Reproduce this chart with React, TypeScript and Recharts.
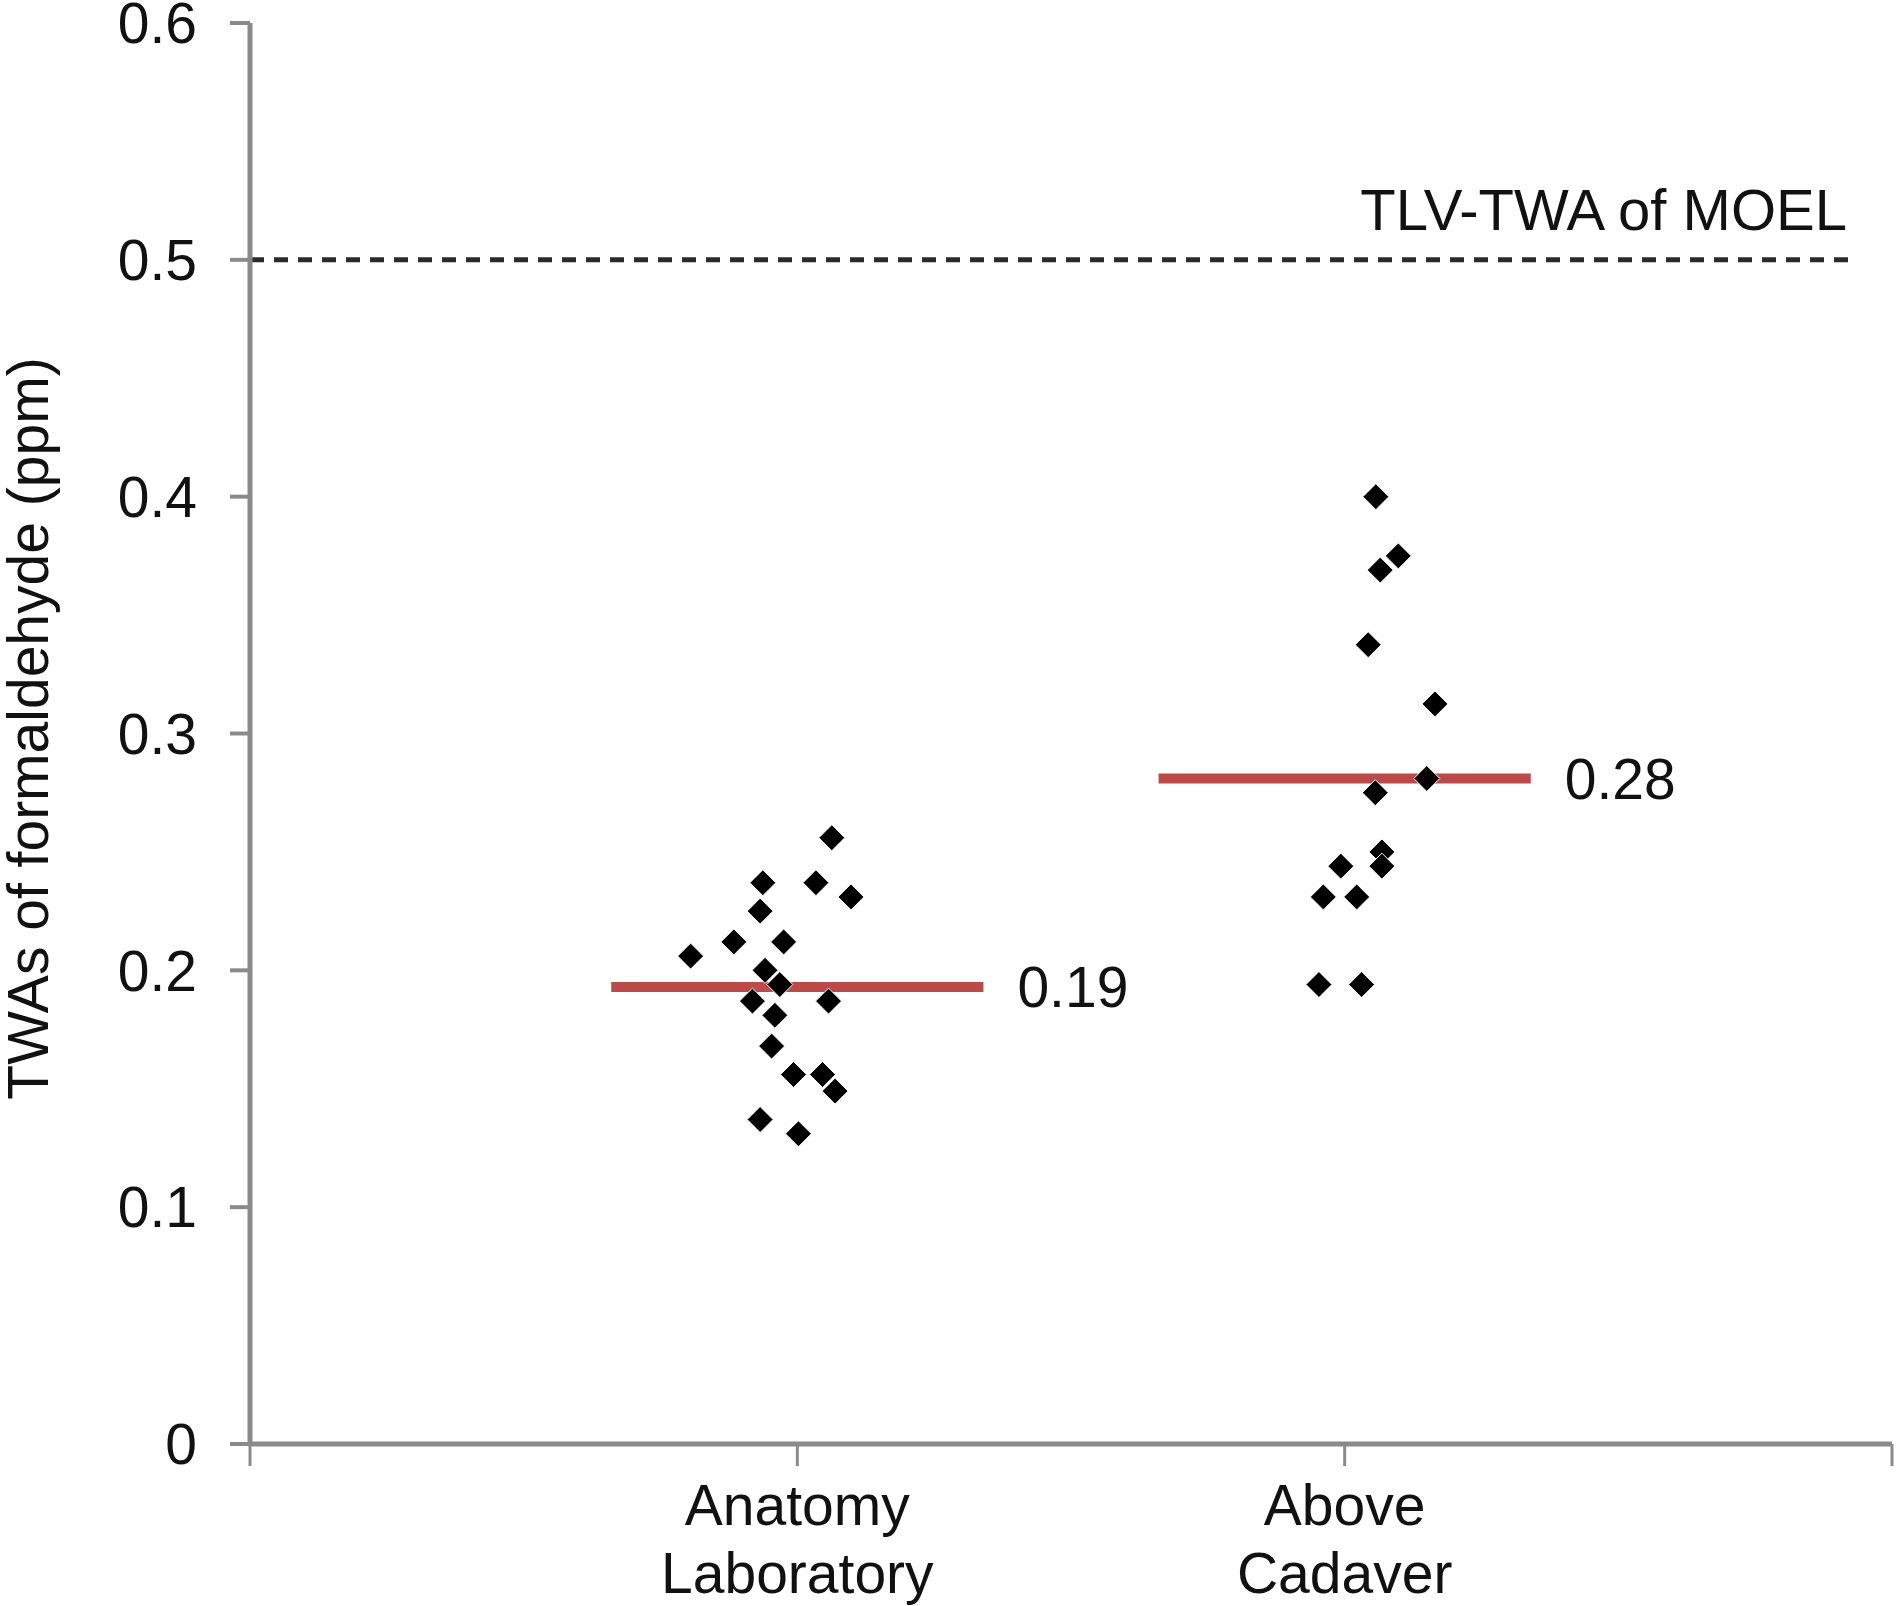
import React from 'react';
import { ScatterChart, Scatter, XAxis, YAxis, ReferenceLine } from 'recharts';

// category positions on the x axis (boundaries at 0 and 3)
const categoryPos = [1, 2];
const categoryLines = [
  ['Anatomy', 'Laboratory'],
  ['Above', 'Cadaver'],
];

// Anatomy laboratory: jittered x, TWA (ppm)
const anatomyX = [1.063, 0.937, 1.034, 1.098, 0.932, 0.884, 0.975, 0.805, 0.941, 0.968, 0.918, 1.057, 0.959, 0.953, 0.993, 1.046, 1.069, 0.932, 1.002];
const anatomyY = [0.256, 0.237, 0.237, 0.231, 0.225, 0.212, 0.212, 0.206, 0.2, 0.194, 0.187, 0.187, 0.181, 0.168, 0.156, 0.156, 0.149, 0.137, 0.131];

// Above cadaver
const cadaverX = [2.057, 2.098, 2.065, 2.043, 2.165, 2.15, 2.056, 2.068, 2.068, 1.993, 1.961, 2.022, 1.953, 2.031];
const cadaverY = [0.4, 0.375, 0.369, 0.3375, 0.3125, 0.281, 0.275, 0.25, 0.244, 0.244, 0.231, 0.231, 0.194, 0.194];

const means = [0.193, 0.281];
const meanLabels = ['0.19', '0.28'];

const yTicks = [0, 0.1, 0.2, 0.3, 0.4, 0.5, 0.6];
const xTicks = [0, 1, 2, 3];

const limit = 0.5;
const limitLabel = 'TLV-TWA of MOEL';
const yTitle = 'TWAs of formaldehyde (ppm)';

const anatomyData = anatomyX.map((x, i) => ({ x, y: anatomyY[i] }));
const cadaverData = cadaverX.map((x, i) => ({ x, y: cadaverY[i] }));

const FONT = '"Liberation Sans", Arial, Helvetica, sans-serif';
const AXIS = '#8a8a8a';
const RED = '#bb4a4a';

const Diamond = (props: any) => {
  const { cx, cy } = props;
  const r = 13;
  return (
    <polygon
      points={`${cx},${cy - r} ${cx + r},${cy} ${cx},${cy + r} ${cx - r},${cy}`}
      fill="#000"
      stroke="#fff"
      strokeWidth={1}
    />
  );
};

const XTick = (props: any) => {
  const { x, y, payload } = props;
  const idx = categoryPos.indexOf(payload.value);
  if (idx < 0) return <g />;
  const lines = categoryLines[idx];
  return (
    <text x={x} y={y} textAnchor="middle" fill="#111" fontSize={57} fontFamily={FONT}>
      <tspan x={x} dy={59}>{lines[0]}</tspan>
      <tspan x={x} dy={68}>{lines[1]}</tspan>
    </text>
  );
};

export default function App() {
  return (
    <div style={{ position: 'absolute', left: 0, top: 0, width: 1898, height: 1606, background: '#fff', fontFamily: FONT }}>
      <ScatterChart width={1898} height={1606} margin={{ top: 23, right: 6, bottom: 0, left: 0 }}>
        <XAxis
          type="number"
          dataKey="x"
          domain={[0, 3]}
          ticks={xTicks}
          interval={0}
          height={162}
          axisLine={{ stroke: AXIS, strokeWidth: 5 }}
          tickLine={{ stroke: AXIS, strokeWidth: 3 }}
          tickSize={22}
          tickMargin={0}
          tick={<XTick />}
        />
        <YAxis
          type="number"
          dataKey="y"
          domain={[0, 0.6]}
          ticks={yTicks}
          interval={0}
          width={250}
          axisLine={{ stroke: AXIS, strokeWidth: 5 }}
          tickLine={{ stroke: AXIS, strokeWidth: 4 }}
          tickSize={20}
          tickMargin={33}
          tick={{ fill: '#111', fontSize: 57, fontFamily: FONT }}
          tickFormatter={(v: number) => (v === 0 ? '0' : v.toFixed(1))}
          label={(p: any) => {
            const vb = p.viewBox || { x: 0, y: 23, width: 250, height: 1421 };
            const cx = 28;
            const cy = vb.y + vb.height / 2 - 5;
            return (
              <text x={cx} y={cy} textAnchor="middle" dominantBaseline="central" fill="#111" fontSize={57} fontFamily={FONT} transform={`rotate(-90, ${cx}, ${cy})`}>
                {yTitle}
              </text>
            );
          }}
        />
        <ReferenceLine
          segment={[{ x: 0, y: limit }, { x: 2.925, y: limit }]}
          stroke="#2a2a2a"
          strokeWidth={5}
          strokeDasharray="14 10"
          label={(p: any) => {
            const vb = p.viewBox;
            const xe = vb.x + vb.width - 4;
            return (
              <text x={xe} y={vb.y - 30} textAnchor="end" fill="#111" fontSize={58} fontFamily={FONT}>
                {limitLabel}
              </text>
            );
          }}
        />
        {means.map((m, i) => (
          <ReferenceLine
            key={i}
            segment={[{ x: categoryPos[i] - 0.34, y: m }, { x: categoryPos[i] + 0.34, y: m }]}
            stroke={RED}
            strokeWidth={10}
            label={(p: any) => {
              const vb = p.viewBox;
              return (
                <text x={vb.x + vb.width + 34} y={vb.y} dy="0.355em" textAnchor="start" fill="#111" fontSize={57} fontFamily={FONT}>
                  {meanLabels[i]}
                </text>
              );
            }}
          />
        ))}
        <Scatter data={anatomyData} shape={Diamond} isAnimationActive={false} />
        <Scatter data={cadaverData} shape={Diamond} isAnimationActive={false} />
      </ScatterChart>
    </div>
  );
}
